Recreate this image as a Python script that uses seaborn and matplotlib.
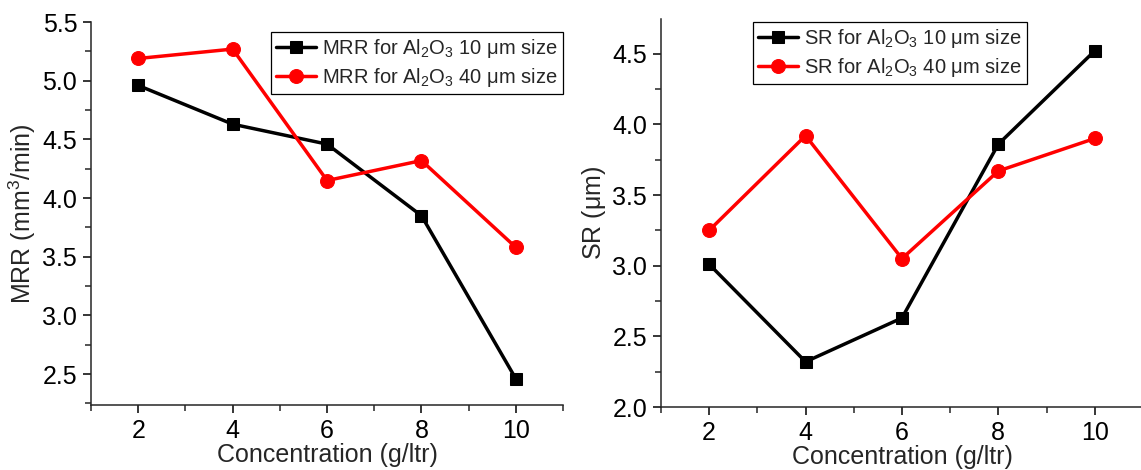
import matplotlib
matplotlib.use("Agg")
import matplotlib.pyplot as plt
from matplotlib.ticker import MultipleLocator, FormatStrFormatter
import seaborn as sns

conc = [2, 4, 6, 8, 10]
mrr_10um = [4.96, 4.63, 4.46, 3.85, 2.46]
mrr_40um = [5.19, 5.27, 4.15, 4.32, 3.58]
sr_10um = [3.01, 2.32, 2.63, 3.86, 4.52]
sr_40um = [3.25, 3.92, 3.05, 3.67, 3.90]

sns.set_style("ticks")
plt.rcParams["font.family"] = ["Liberation Sans", "DejaVu Sans"]
plt.rcParams["mathtext.fontset"] = "custom"
plt.rcParams["mathtext.rm"] = "Liberation Sans"
plt.rcParams["mathtext.it"] = "Liberation Sans:italic"
plt.rcParams["axes.linewidth"] = 1.1

fig = plt.figure(figsize=(11.41, 4.70), dpi=100)
ax1 = fig.add_axes([0.0798, 0.138, 0.4137, 0.815])
ax2 = fig.add_axes([0.5793, 0.134, 0.4224, 0.8255])


def draw(ax, y1, y2, name, ylabel, ylim, bbox, loc):
    sns.lineplot(x=conc, y=y1, ax=ax, color="black", marker="s", markersize=9,
                 linewidth=2.5, markeredgecolor="black",
                 label=name + r" for Al$_2$O$_3$ 10 $\mathregular{\mu}$m size")
    sns.lineplot(x=conc, y=y2, ax=ax, color="red", marker="o", markersize=10,
                 linewidth=2.5, markeredgecolor="red",
                 label=name + r" for Al$_2$O$_3$ 40 $\mathregular{\mu}$m size")
    ax.set_xlim(1, 11)
    ax.set_ylim(*ylim)
    ax.xaxis.set_major_locator(MultipleLocator(2))
    ax.xaxis.set_minor_locator(MultipleLocator(1))
    ax.yaxis.set_major_locator(MultipleLocator(0.5))
    ax.yaxis.set_minor_locator(MultipleLocator(0.25))
    ax.tick_params(which="major", length=6, width=1.1, labelsize=18, colors="black", pad=4)
    ax.tick_params(which="minor", length=4, width=1.1)
    ax.yaxis.set_major_formatter(FormatStrFormatter("%.1f"))
    ax.set_xlabel("Concentration (g/ltr)", fontsize=18, labelpad=0)
    ax.set_ylabel(ylabel, fontsize=18, labelpad=3)
    for s in ["top", "right"]:
        ax.spines[s].set_visible(False)
    leg = ax.legend(loc=loc, bbox_to_anchor=bbox, fontsize=14.5, frameon=True,
                    fancybox=False, framealpha=1, edgecolor="black",
                    handlelength=2.0, borderpad=0.25, labelspacing=0.3,
                    handletextpad=0.3, borderaxespad=0)
    leg.get_frame().set_linewidth(0.9)


draw(ax1, mrr_10um, mrr_40um, "MRR", r"MRR (mm$^3$/min)", (2.236, 5.5),
     (1.0, 0.974), "upper right")
draw(ax2, sr_10um, sr_40um, "SR", r"SR ($\mathregular{\mu}$m)", (2.0, 4.745),
     (0.19, 0.992), "upper left")

fig.savefig("out.png", dpi=100)
